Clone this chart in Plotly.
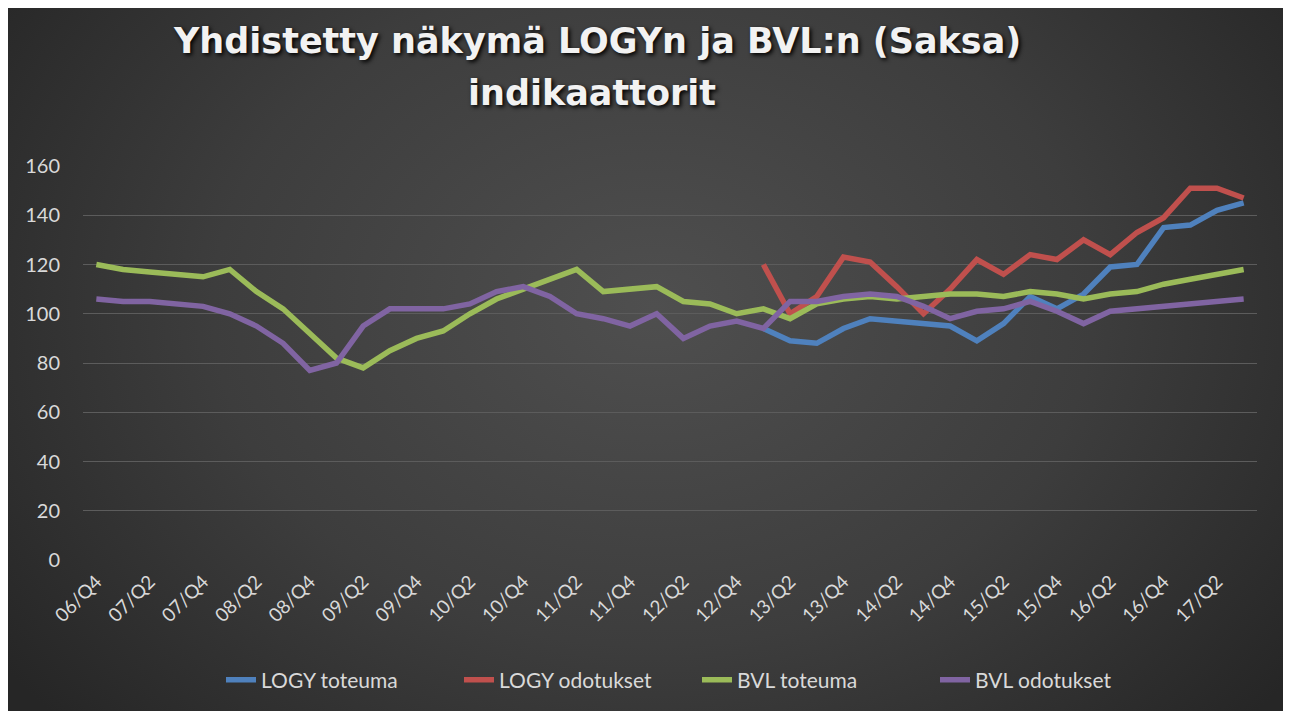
import base64
import plotly.graph_objects as go

# ---------------- data ----------------
quarters = ["06/Q4",
            "07/Q1", "07/Q2", "07/Q3", "07/Q4",
            "08/Q1", "08/Q2", "08/Q3", "08/Q4",
            "09/Q1", "09/Q2", "09/Q3", "09/Q4",
            "10/Q1", "10/Q2", "10/Q3", "10/Q4",
            "11/Q1", "11/Q2", "11/Q3", "11/Q4",
            "12/Q1", "12/Q2", "12/Q3", "12/Q4",
            "13/Q1", "13/Q2", "13/Q3", "13/Q4",
            "14/Q1", "14/Q2", "14/Q3", "14/Q4",
            "15/Q1", "15/Q2", "15/Q3", "15/Q4",
            "16/Q1", "16/Q2", "16/Q3", "16/Q4",
            "17/Q1", "17/Q2", "17/Q3"]

N = None
logy_toteuma = [N] * 25 + [94, 89, 88, 94, 98, 97, 96, 95, 89, 96, 107, 102,
                           108, 119, 120, 135, 136, 142, 145]
logy_odotukset = [N] * 25 + [120, 100, 107, 123, 121, 111, 100, 110, 122, 116,
                             124, 122, 130, 124, 133, 139, 151, 151, 147]
bvl_toteuma = [120, 118, 117, 116, 115, 118, 109, 102, 92, 82, 78, 85, 90, 93,
               100, 106, 110, 114, 118, 109, 110, 111, 105, 104, 100, 102, 98,
               104, 106, 107, 106, 107, 108, 108, 107, 109, 108, 106, 108, 109,
               112, 114, 116, 118]
bvl_odotukset = [106, 105, 105, 104, 103, 100, 95, 88, 77, 80, 95, 102, 102,
                 102, 104, 109, 111, 107, 100, 98, 95, 100, 90, 95, 97, 94, 105,
                 105, 107, 108, 107, 103, 98, 101, 102, 105, 101, 96, 101, 102,
                 103, 104, 105, 106]

series_names = ["LOGY toteuma", "LOGY odotukset", "BVL toteuma", "BVL odotukset"]
series_values = [logy_toteuma, logy_odotukset, bvl_toteuma, bvl_odotukset]
series_colors = ["#4F81BD", "#C0504D", "#9BBB59", "#8064A2"]

tick_labels = quarters[::2]

title_line1 = "Yhdistetty näkymä LOGYn ja BVL:n (Saksa)"
title_line2 = "indikaattorit"

# ---------------- background gradient (svg) ----------------
svg = (
    '<svg xmlns="http://www.w3.org/2000/svg" width="1291" height="711" '
    'viewBox="0 0 1291 711" preserveAspectRatio="none">'
    '<defs><radialGradient id="g" cx="0.5" cy="0.42" r="0.62" '
    'gradientTransform="translate(0.5 0.42) scale(1 1.4) translate(-0.5 -0.42)">'
    '<stop offset="0" stop-color="#4f4f4f"/>'
    '<stop offset="0.55" stop-color="#3d3d3d"/>'
    '<stop offset="1" stop-color="#262626"/>'
    '</radialGradient></defs>'
    '<rect width="1291" height="711" fill="url(#g)"/></svg>'
)
bg_uri = "data:image/svg+xml;base64," + base64.b64encode(svg.encode()).decode()

FW, FH = 1291, 711
# plot area in figure px
L, R, T, B = 75, 1249, 158, 552
W, H = R - L, B - T


def px_x(x):
    return (x - L) / W


def px_y(y):
    return (B - y) / H


fig = go.Figure()
for name, vals, col in zip(series_names, series_values, series_colors):
    fig.add_trace(go.Scatter(
        x=quarters, y=vals, name=name, mode="lines",
        line=dict(color=col, width=5.5),
        connectgaps=False,
    ))

title_font = dict(family="DejaVu Sans", size=35, color="#f2f2f2",
                  shadow="2px 2px 4px #000000")

fig.update_layout(
    width=FW, height=FH,
    margin=dict(l=L, r=FW - R, t=T, b=FH - B),
    paper_bgcolor="#333333",
    plot_bgcolor="rgba(0,0,0,0)",
    showlegend=True,
    legend=dict(orientation="h", x=px_x(213), xanchor="left", y=px_y(672),
                yanchor="middle", font=dict(family="Lato", size=21, color="#d9d9d9"),
                bgcolor="rgba(0,0,0,0)", entrywidth=193, entrywidthmode="pixels",
                tracegroupgap=0),
    images=[dict(source=bg_uri, xref="paper", yref="paper",
                 x=px_x(0), y=px_y(0), sizex=FW / W, sizey=FH / H,
                 xanchor="left", yanchor="top", sizing="stretch", layer="below")],
    annotations=[
        dict(text="<b>" + title_line1 + "</b>", xref="paper", yref="paper",
             x=px_x(589), y=px_y(33), xanchor="center", yanchor="middle",
             showarrow=False, font=title_font),
        dict(text="<b>" + title_line2 + "</b>", xref="paper", yref="paper",
             x=px_x(584), y=px_y(85), xanchor="center", yanchor="middle",
             showarrow=False, font=title_font),
    ],
)

fig.update_xaxes(
    type="category", range=[-0.5, len(quarters) - 0.5],
    tickmode="array", tickvals=tick_labels, ticktext=tick_labels,
    tickangle=-45, showgrid=False, zeroline=False, showline=False,
    ticks="", ticklabelstandoff=6,
    tickfont=dict(family="Lato", size=19, color="#d9d9d9"),
)
fig.update_yaxes(
    range=[0, 160], tick0=0, dtick=20, showgrid=True,
    gridcolor="#5c5c5c", gridwidth=1, zeroline=False, showline=False,
    ticks="", ticklabelstandoff=22,
    tickfont=dict(family="Lato", size=20, color="#d9d9d9"),
)

fig.write_html("out.html")
